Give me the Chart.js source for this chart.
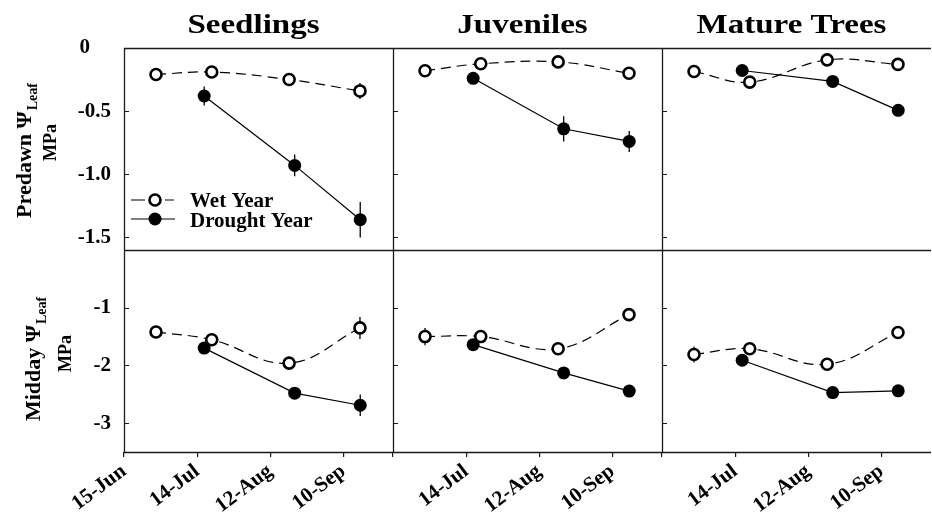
<!DOCTYPE html>
<html>
<head>
<meta charset="utf-8">
<script src="https://cdn.jsdelivr.net/npm/chart.js@4.4.1/dist/chart.umd.min.js"></script>
<style>
  html, body { margin: 0; padding: 0; background: #fff; }
  #wrap { position: relative; width: 932px; height: 513px; overflow: hidden; background: #fff; }
  #wrap canvas { position: absolute; left: 0; top: 0; }
</style>
</head>
<body>
<div id="wrap"></div>
<script>
// ---- Data -------------------------------------------------------------
// Sampling dates, as day of year
const wetDays = [178.7, 200.8, 231.5, 259.6];
const droughtDays = [197.8, 233.7, 259.7];

// Date axis ticks
const dateTickDays = [166, 195, 224, 253];
const dateTickLabels = ['15-Jun', '14-Jul', '12-Aug', '10-Sep'];

// Life stages (columns)
const stages = ['Seedlings', 'Juveniles', 'Mature Trees'];

// Predawn leaf water potential, MPa
const predawnWetSeedlings = [-0.21, -0.19, -0.25, -0.34];
const predawnDroughtSeedlings = [-0.38, -0.93, -1.36];
const predawnWetJuveniles = [-0.18, -0.125, -0.11, -0.20];
const predawnDroughtJuveniles = [-0.24, -0.64, -0.74];
const predawnWetMature = [-0.186, -0.27, -0.094, -0.13];
const predawnDroughtMature = [-0.178, -0.265, -0.494];

// Midday leaf water potential, MPa
const middayWetSeedlings = [-1.42, -1.555, -1.96, -1.35];
const middayDroughtSeedlings = [-1.70, -2.48, -2.69];
const middayWetJuveniles = [-1.50, -1.50, -1.71, -1.12];
const middayDroughtJuveniles = [-1.64, -2.13, -2.445];
const middayWetMature = [-1.81, -1.71, -1.98, -1.43];
const middayDroughtMature = [-1.91, -2.47, -2.44];

// Standard errors (+/-), MPa
const predawnWetSeedlingsErr = [0, 0.02, 0.02, 0.063];
const predawnDroughtSeedlingsErr = [0.075, 0.086, 0.14];
const predawnWetJuvenilesErr = [0, 0, 0, 0];
const predawnDroughtJuvenilesErr = [0, 0.10, 0.083];
const predawnWetMatureErr = [0, 0, 0, 0];
const predawnDroughtMatureErr = [0, 0, 0];
const middayWetSeedlingsErr = [0, 0.05, 0, 0.19];
const middayDroughtSeedlingsErr = [0, 0, 0.185];
const middayWetJuvenilesErr = [0.15, 0, 0, 0];
const middayDroughtJuvenilesErr = [0, 0, 0];
const middayWetMatureErr = [0.14, 0.05, 0.10, 0];
const middayDroughtMatureErr = [0, 0, 0];

// Value axis ticks
const predawnTicks = [0, -0.5, -1.0, -1.5];
const predawnTickLabels = ['0', '-0.5', '-1.0', '-1.5'];
const middayTicks = [-1, -2, -3];
const middayTickLabels = ['-1', '-2', '-3'];

// ---- Layout -----------------------------------------------------------
const W = 932, H = 513;
const colLeft = [124, 393, 662];
const colRight = [393, 662, 931];
const rowTop = [48, 250];
const rowBottom = [250, 452];
const SERIF = '"Liberation Serif", "Times New Roman", serif';

const rows = [
  {
    yMin: -1.6, yMax: 0, ticks: predawnTicks, labels: predawnTickLabels,
    title: { main: 'Predawn \u03A8', sub: 'Leaf', unit: 'MPa', x: 31, yc: 150.5, unitX: 56, unitYc: 142.5 },
    wet: [predawnWetSeedlings, predawnWetJuveniles, predawnWetMature],
    drought: [predawnDroughtSeedlings, predawnDroughtJuveniles, predawnDroughtMature],
    wetErr: [predawnWetSeedlingsErr, predawnWetJuvenilesErr, predawnWetMatureErr],
    droughtErr: [predawnDroughtSeedlingsErr, predawnDroughtJuvenilesErr, predawnDroughtMatureErr]
  },
  {
    yMin: -3.5, yMax: 0, ticks: middayTicks, labels: middayTickLabels,
    title: { main: 'Midday \u03A8', sub: 'Leaf', unit: 'MPa', x: 40, yc: 359, unitX: 71, unitYc: 353.5 },
    wet: [middayWetSeedlings, middayWetJuveniles, middayWetMature],
    drought: [middayDroughtSeedlings, middayDroughtJuveniles, middayDroughtMature],
    wetErr: [middayWetSeedlingsErr, middayWetJuvenilesErr, middayWetMatureErr],
    droughtErr: [middayDroughtSeedlingsErr, middayDroughtJuvenilesErr, middayDroughtMatureErr]
  }
];

// ---- Panel decoration: frame, inner ticks, error bars, text ----------
function drawOpenMarker(ctx, x, y) {
  ctx.beginPath();
  ctx.arc(x, y, 5.5, 0, Math.PI * 2);
  ctx.fillStyle = '#fff';
  ctx.fill();
  ctx.lineWidth = 2.6;
  ctx.strokeStyle = '#000';
  ctx.stroke();
}
function drawFilledMarker(ctx, x, y) {
  ctx.beginPath();
  ctx.arc(x, y, 6.5, 0, Math.PI * 2);
  ctx.fillStyle = '#000';
  ctx.fill();
}

const decoPlugin = {
  id: 'deco',
  beforeDatasetsDraw(chart, args, o) {
    const ctx = chart.ctx;
    const ys = chart.scales.y;
    ctx.save();
    ctx.strokeStyle = '#000';
    ctx.lineWidth = 1.3;
    chart.data.datasets.forEach((ds, i) => {
      const meta = chart.getDatasetMeta(i);
      const errs = o.errors[i];
      ds.data.forEach((p, j) => {
        const e = errs[j];
        if (!e) return;
        const x = meta.data[j].x;
        ctx.beginPath();
        ctx.moveTo(x, ys.getPixelForValue(p.y + e));
        ctx.lineTo(x, ys.getPixelForValue(p.y - e));
        ctx.stroke();
      });
    });
    ctx.restore();
  },
  afterDraw(chart, args, o) {
    const ctx = chart.ctx;
    const a = chart.chartArea;
    const ys = chart.scales.y;
    ctx.save();
    ctx.strokeStyle = '#1a1a1a';
    ctx.lineWidth = 1.3;
    ctx.beginPath();
    // left edge
    ctx.moveTo(a.left + 0.5, a.top);
    ctx.lineTo(a.left + 0.5, a.bottom);
    // bottom edge
    ctx.moveTo(a.left, a.bottom + 0.5);
    ctx.lineTo(a.right, a.bottom + 0.5);
    if (o.row === 0) {
      ctx.moveTo(a.left, a.top + 0.5);
      ctx.lineTo(a.right, a.top + 0.5);
    }
    ctx.stroke();

    // inward tick marks on the value axis
    ctx.lineWidth = 1.2;
    ctx.beginPath();
    o.yTicks.forEach(v => {
      const y = Math.round(ys.getPixelForValue(v)) + 0.5;
      if (Math.abs(y - a.top) < 2) return;
      ctx.moveTo(a.left, y);
      ctx.lineTo(a.left + 5, y);
    });
    ctx.stroke();

    ctx.fillStyle = '#000';
    // column heading
    if (o.row === 0) {
      ctx.save();
      ctx.font = 'bold 28px ' + SERIF;
      ctx.textAlign = 'center';
      ctx.textBaseline = 'alphabetic';
      ctx.translate((a.left + a.right) / 2 - 5, 33);
      ctx.scale(1.18, 1);
      ctx.fillText(o.heading, 0, 0);
      ctx.restore();
    }

    // value-axis title on the left column
    if (o.col === 0) {
      const t = o.axisTitle;
      ctx.save();
      const fMain = 'bold 22px ' + SERIF;
      const fSub = 'bold 14px ' + SERIF;
      ctx.font = fMain;
      const wMain = ctx.measureText(t.main).width;
      ctx.font = fSub;
      const wSub = ctx.measureText(t.sub).width;
      const total = wMain + 1 + wSub;
      ctx.translate(t.x, t.yc);
      ctx.rotate(-Math.PI / 2);
      ctx.textAlign = 'left';
      ctx.textBaseline = 'alphabetic';
      ctx.font = fMain;
      ctx.fillText(t.main, -total / 2, 0);
      ctx.font = fSub;
      ctx.fillText(t.sub, -total / 2 + wMain + 1, 6);
      ctx.restore();

      ctx.save();
      ctx.font = 'bold 18px ' + SERIF;
      ctx.translate(t.unitX, t.unitYc);
      ctx.rotate(-Math.PI / 2);
      ctx.textAlign = 'center';
      ctx.textBaseline = 'alphabetic';
      ctx.fillText(t.unit, 0, 0);
      ctx.restore();
    }

    // legend
    if (o.legend) {
      const names = chart.data.datasets.map(d => d.label);
      const cx = a.left + 31;
      const ly = [a.top + 152, a.top + 171];
      ctx.strokeStyle = '#000';
      ctx.lineWidth = 1.2;
      ctx.beginPath();
      ctx.moveTo(a.left + 7, ly[0]); ctx.lineTo(a.left + 21, ly[0]);
      ctx.moveTo(a.left + 41, ly[0]); ctx.lineTo(a.left + 50, ly[0]);
      ctx.moveTo(a.left + 7, ly[1]); ctx.lineTo(a.left + 51, ly[1]);
      ctx.stroke();
      drawOpenMarker(ctx, cx, ly[0]);
      drawFilledMarker(ctx, cx, ly[1]);
      ctx.fillStyle = '#000';
      ctx.font = 'bold 21px ' + SERIF;
      ctx.textAlign = 'left';
      ctx.textBaseline = 'alphabetic';
      ctx.fillText(names[0], a.left + 66, ly[0] + 7);
      ctx.fillText(names[1], a.left + 66, ly[1] + 8);
    }
    ctx.restore();
  }
};

// ---- Build the six panels --------------------------------------------
const wrap = document.getElementById('wrap');
const tickFont = { family: SERIF, size: 21, weight: 'bold' };

rows.forEach((R, r) => {
  stages.forEach((stage, c) => {
    const canvas = document.createElement('canvas');
    canvas.width = W; canvas.height = H;
    canvas.style.width = W + 'px'; canvas.style.height = H + 'px';
    wrap.appendChild(canvas);

    const showY = c === 0;
    const showX = r === 1;
    const yAxisW = showY ? 60 : 0;
    const xAxisH = showX ? 61 : 0;

    new Chart(canvas, {
      type: 'line',
      data: {
        datasets: [
          {
            label: 'Wet Year',
            data: wetDays.map((d, i) => ({ x: d, y: R.wet[c][i] })),
            borderColor: '#000', borderWidth: 1.2, borderDash: [10, 6],
            tension: 0.4, fill: false,
            pointRadius: 5.5, pointBorderWidth: 2.6,
            pointBackgroundColor: '#fff', pointBorderColor: '#000'
          },
          {
            label: 'Drought Year',
            data: droughtDays.map((d, i) => ({ x: d, y: R.drought[c][i] })),
            borderColor: '#000', borderWidth: 1.2,
            tension: 0, fill: false,
            pointRadius: 6.5, pointBorderWidth: 0,
            pointBackgroundColor: '#000', pointBorderColor: '#000'
          }
        ]
      },
      options: {
        responsive: false,
        animation: false,
        devicePixelRatio: 1,
        events: [],
        layout: {
          autoPadding: false,
          padding: {
            left: colLeft[c] - yAxisW,
            right: W - colRight[c],
            top: rowTop[r],
            bottom: H - rowBottom[r] - xAxisH
          }
        },
        plugins: {
          legend: { display: false },
          tooltip: { enabled: false },
          deco: {
            row: r, col: c, heading: stage, yTicks: R.ticks,
            axisTitle: R.title,
            legend: r === 0 && c === 0,
            errors: [R.wetErr[c], R.droughtErr[c]]
          }
        },
        scales: {
          x: {
            type: 'linear', min: 166, max: 272.7,
            display: showX,
            afterBuildTicks: s => { s.ticks = dateTickDays.map(v => ({ value: v })); },
            afterFit: s => { s.height = xAxisH; },
            border: { display: false },
            grid: { drawOnChartArea: false, drawTicks: true, tickLength: 5, color: '#1a1a1a', lineWidth: 1.2 },
            ticks: {
              autoSkip: false, minRotation: 37, maxRotation: 37, padding: 2,
              color: '#000', font: tickFont,
              callback: (v, i) => (c > 0 && i === 0) ? '' : dateTickLabels[i]
            }
          },
          y: {
            type: 'linear', min: R.yMin, max: R.yMax,
            display: showY,
            afterBuildTicks: s => { s.ticks = R.ticks.map(v => ({ value: v })); },
            afterFit: s => { s.width = yAxisW; },
            border: { display: false },
            grid: { display: true, drawOnChartArea: false, drawTicks: false },
            ticks: {
              padding: 13, color: '#000', font: tickFont,
              // the top "0" label sits a little left of the others
              callback: (v, i) => R.labels[i] + (v === 0 ? '\u2002\u2002' : '')
            }
          }
        }
      },
      plugins: [decoPlugin]
    });
  });
});
</script>
</body>
</html>
